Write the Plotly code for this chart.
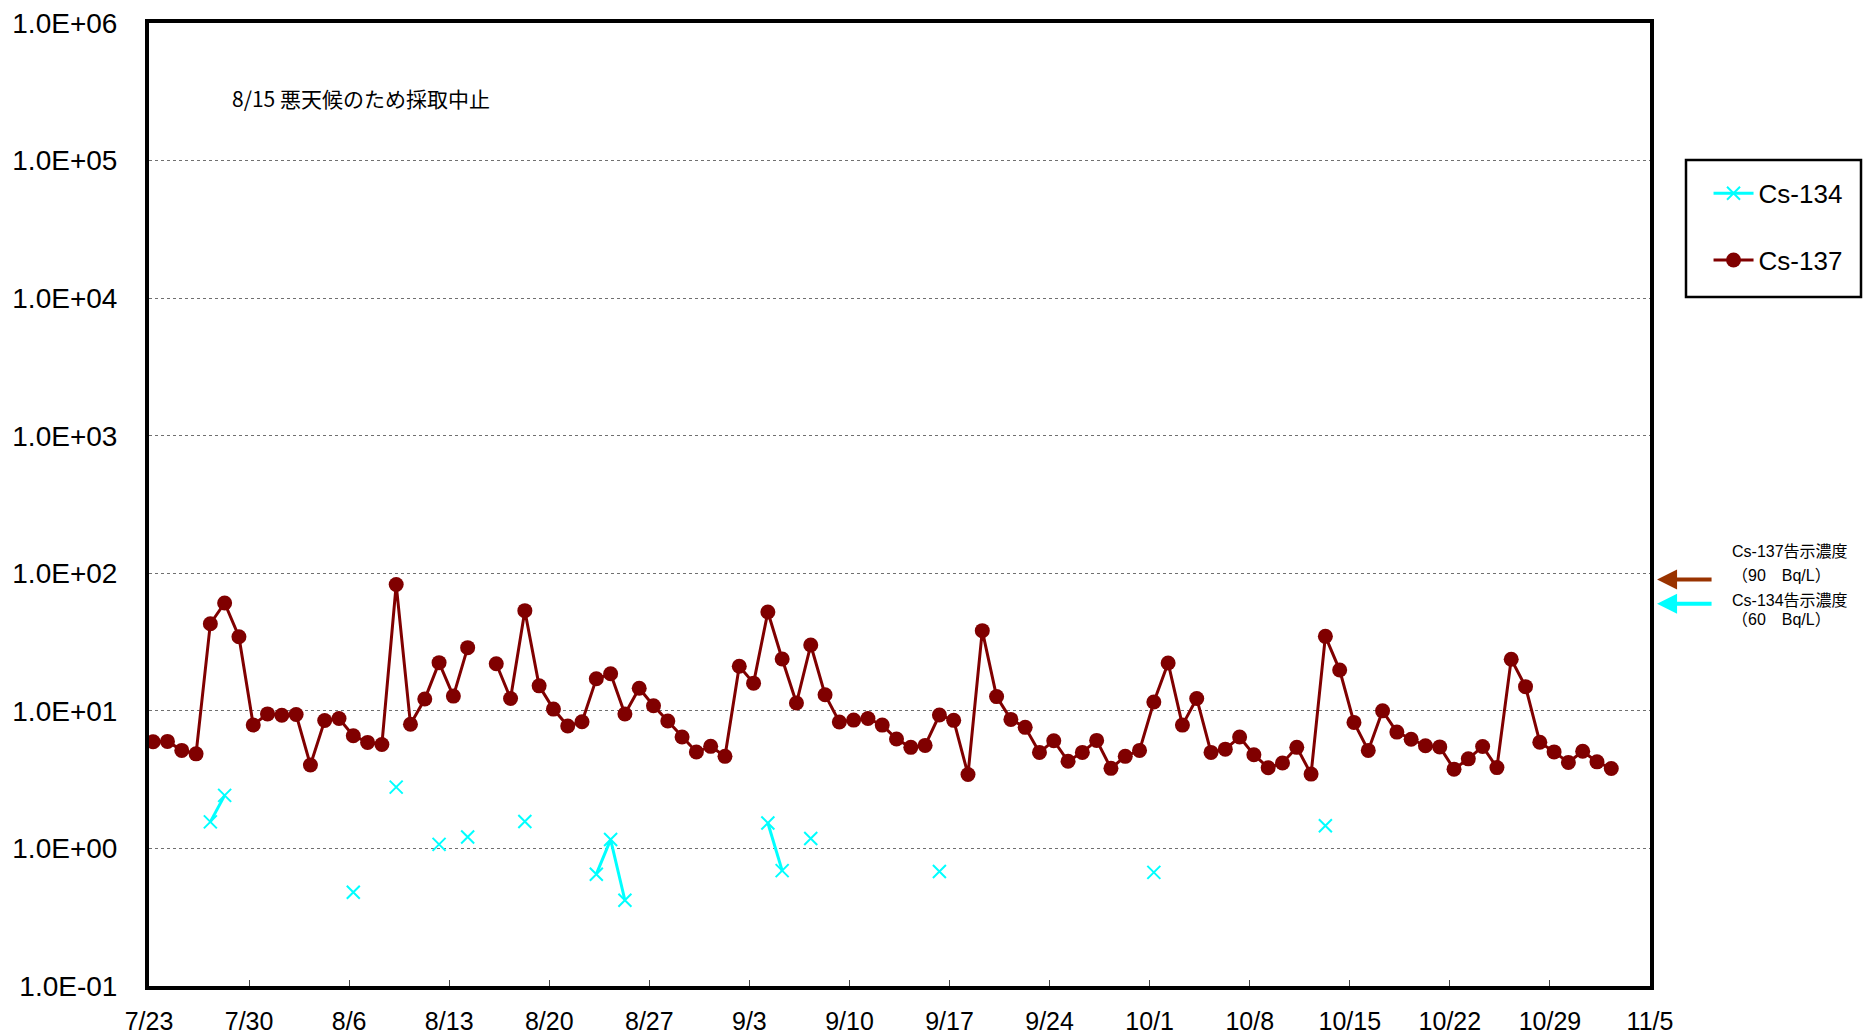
import math
import pandas as pd
import plotly.graph_objects as go

# ---- data -------------------------------------------------------------
dates = pd.date_range("2013-07-23 07:00", "2013-11-02 07:00", freq="D")

cs137 = [
    # Jul 23-31
    5.97, 6.0, 5.16, 4.87, 43.0, 60.8, 34.6, 7.9, 9.5,
    # Aug 1-31 (8/15 not sampled)
    9.3, 9.4, 4.04, 8.5, 8.8, 6.6, 5.9, 5.7, 82.8, 8.0,
    12.2, 22.4, 12.8, 28.8, None, 22.0, 12.3, 53.5, 15.2, 10.3,
    7.76, 8.34, 17.1, 18.6, 9.48, 14.6, 10.9, 8.43, 6.45, 5.02, 5.52,
    # Sep 1-30
    4.67, 21.1, 15.9, 52.3, 23.8, 11.4, 30.1, 13.1, 8.3, 8.57,
    8.81, 7.88, 6.24, 5.43, 5.61, 9.33, 8.53, 3.45, 38.3, 12.7,
    8.67, 7.59, 4.99, 6.07, 4.30, 4.99, 6.10, 3.82, 4.67, 5.16,
    # Oct 1-31
    11.6, 22.3, 7.88, 12.3, 4.99, 5.27, 6.45, 4.80, 3.86, 4.18,
    5.43, 3.47, 34.8, 19.8, 8.24, 5.16, 10.0, 7.01, 6.22, 5.57,
    5.47, 3.77, 4.48, 5.51, 3.87, 23.7, 15.0, 5.92, 5.03, 4.22, 5.09,
    # Nov 1-2
    4.26, 3.81,
]

cs134_detected = {
    "2013-07-27": 1.56, "2013-07-28": 2.43, "2013-08-06": 0.48,
    "2013-08-09": 2.79, "2013-08-12": 1.07, "2013-08-14": 1.21,
    "2013-08-18": 1.57, "2013-08-23": 0.65, "2013-08-24": 1.16,
    "2013-08-25": 0.42, "2013-09-04": 1.53, "2013-09-05": 0.69,
    "2013-09-07": 1.18, "2013-09-16": 0.68, "2013-10-01": 0.67,
    "2013-10-13": 1.46,
}
cs134 = [cs134_detected.get(d.strftime("%Y-%m-%d")) for d in dates]

ytick_vals = [0.1, 1, 10, 100, 1000, 10000, 100000, 1000000]
ytick_text = ["1.0E-01", "1.0E+00", "1.0E+01", "1.0E+02",
              "1.0E+03", "1.0E+04", "1.0E+05", "1.0E+06"]

limit137 = 90
limit134 = 60
note_text = "8/15 悪天候のため採取中止"

# ---- figure -----------------------------------------------------------
FONT = "Liberation Sans, Arial, Noto Sans CJK JP, sans-serif"
C137 = "#800000"
C134 = "#00FFFF"

fig = go.Figure()
fig.add_trace(go.Scatter(
    x=dates, y=cs134, name="Cs-134", mode="lines+markers",
    connectgaps=False, legendgroup="a",
    line=dict(color=C134, width=3),
    marker=dict(symbol="x-thin", size=13, color=C134,
                line=dict(color=C134, width=2)),
))
fig.add_trace(go.Scatter(
    x=dates, y=cs137, name="Cs-137", mode="lines+markers",
    connectgaps=False, legendgroup="b",
    line=dict(color=C137, width=3),
    marker=dict(symbol="circle", size=15, color=C137),
))

fig.update_layout(
    width=1865, height=1034,
    margin=dict(l=149, r=215, t=23, b=48, autoexpand=False),
    paper_bgcolor="white", plot_bgcolor="white",
    font=dict(family=FONT, color="black"),
    showlegend=True,
    legend=dict(
        x=1.039, y=0.8475, xanchor="left", yanchor="top",
        borderwidth=0, bgcolor="rgba(0,0,0,0)",
        font=dict(size=26, family=FONT), tracegroupgap=30,
        itemwidth=40,
    ),
)

# legend frame
fig.add_shape(
    type="rect", xref="paper", yref="paper",
    x0=(1686 - 149) / 1501, x1=(1861 - 149) / 1501,
    y0=(986 - 297) / 963, y1=(986 - 160) / 963,
    line=dict(color="black", width=2.5), fillcolor="rgba(0,0,0,0)",
)

fig.update_xaxes(
    type="date",
    range=["2013-07-23", "2013-11-05"],
    tick0="2013-07-23", dtick=7 * 86400000,
    tickformat="%-m/%-d",
    ticks="inside", ticklen=6, tickwidth=1, tickcolor="#444",
    showgrid=False, zeroline=False, automargin=False,
    showline=True, linewidth=4, linecolor="black", mirror=True,
    tickfont=dict(size=25, family=FONT),
    ticklabelstandoff=10, ticklabeloverflow="allow",
)
fig.update_yaxes(
    type="log", range=[-1, 6],
    tickvals=ytick_vals, ticktext=ytick_text,
    ticks="", showgrid=True, gridcolor="#707070", gridwidth=1,
    griddash="dot", automargin=False,
    showline=True, linewidth=4, linecolor="black", mirror=True,
    tickfont=dict(size=28, family=FONT),
    ticklabelstandoff=22, ticklabeloverflow="allow",
)

# note
fig.add_annotation(
    x=0.054, y=0.9224, xref="paper", yref="paper",
    xanchor="left", yanchor="middle", showarrow=False,
    text=note_text, font=dict(size=21, family="Noto Sans CJK JP, sans-serif"),
)

# limit arrows
for val, col in [(limit137, "#993300"), (limit134, C134)]:
    fig.add_annotation(
        x=1.0047, y=math.log10(val), xref="paper", yref="y",
        ax=56, ay=0, axref="pixel", ayref="pixel",
        text="", showarrow=True, arrowhead=2, arrowsize=1,
        arrowwidth=4, arrowcolor=col,
    )

# limit labels
labels = [
    ("Cs-137告示濃度", 0.4511),
    ("（90　Bq/L）", 0.4258),
    ("Cs-134告示濃度", 0.4008),
    ("（60　Bq/L）", 0.3801),
]
for txt, yp in labels:
    fig.add_annotation(
        x=1.053, y=yp, xref="paper", yref="paper",
        xanchor="left", yanchor="middle", showarrow=False,
        text=txt, font=dict(size=16, family=FONT),
    )

page_css = (
    "document.documentElement.style.margin='0';"
    "document.body.style.margin='0';"
    "document.documentElement.style.overflow='hidden';"
    "document.body.style.overflow='hidden';"
)
fig.write_html("out.html", post_script=page_css,
               config={"displayModeBar": False})
